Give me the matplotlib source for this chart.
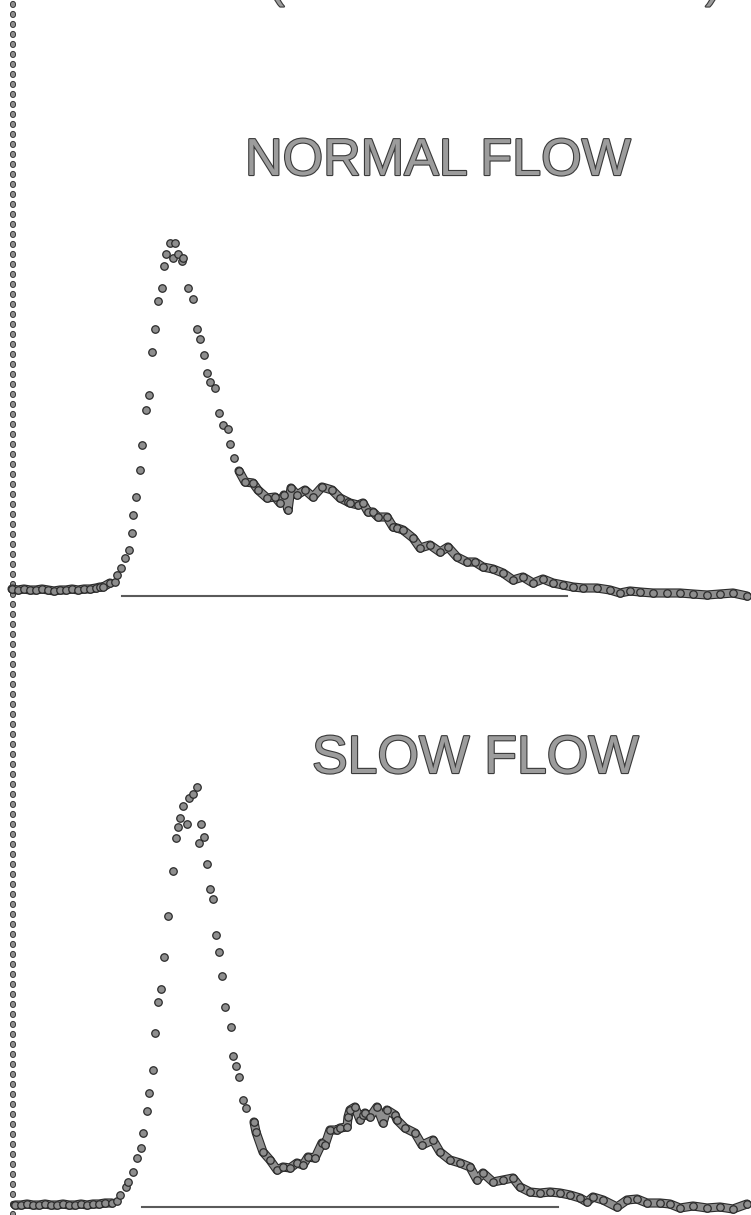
"""
Dilution curves, normal vs slow flow (scanned-figure look).
Output: out.png
"""

import matplotlib
matplotlib.use("Agg")
import matplotlib.pyplot as plt
import matplotlib.patheffects as pe
import numpy as np

W, H = 751, 1215
DOT_FACE = "#8e8e8e"
DOT_EDGE = "#2b2b2b"
TEXT_FACE = "#9c9c9c"
FONT = ["Liberation Sans", "DejaVu Sans"]

# normal flow: sample position vs counts above baseline
NORMAL_X = [12, 18, 24, 30, 36, 42, 48, 54, 60, 66, 72, 78, 84, 90, 96, 100,
            103, 110, 115, 117, 121, 125, 129, 132, 133, 136, 140, 142, 146, 149,
            152, 155, 158, 162, 164, 166, 170, 173, 175, 178, 182, 183, 188, 193,
            197, 200, 204, 207, 210, 215, 219, 223, 228, 230, 234, 239, 245, 253,
            258, 267, 275, 280, 284, 288, 291, 297, 305, 313, 322, 332, 340, 348,
            350, 358, 363, 368, 373, 378, 387, 393, 397, 403, 413, 420, 430, 440,
            448, 457, 467, 475, 483, 493, 503, 513, 523, 533, 543, 553, 563, 573,
            583, 597, 610, 620, 630, 640, 653, 667, 680, 693, 707, 720, 733, 747]
NORMAL_Y = [1, 0, 1, 0, 0, 1, 0, -1, 0, 0, 1, 0, 1, 1, 2, 3,
            3, 7, 8, 15, 22, 32, 40, 57, 75, 93, 120, 145, 180, 195,
            238, 261, 289, 302, 324, 336, 347, 332, 347, 336, 329, 332, 302, 291,
            261, 251, 235, 217, 208, 202, 177, 165, 161, 146, 132, 119, 108, 107,
            100, 92, 93, 87, 95, 80, 102, 95, 100, 93, 103, 100, 92, 88,
            87, 85, 87, 78, 78, 73, 73, 63, 62, 60, 52, 42, 45, 38,
            43, 33, 28, 28, 23, 21, 17, 10, 13, 7, 11, 7, 5, 3,
            2, 2, 0, -3, -1, -2, -3, -3, -3, -4, -5, -4, -3, -6]

# slow flow
SLOW_X = [15, 21, 27, 33, 39, 45, 51, 57, 63, 69, 75, 81, 87, 93, 99, 105,
          112, 117, 120, 126, 128, 133, 137, 141, 143, 147, 149, 153, 155, 158,
          161, 164, 168, 173, 176, 178, 180, 183, 187, 189, 193, 197, 199, 201,
          204, 207, 210, 213, 216, 219, 222, 225, 231, 233, 236, 239, 243, 246,
          254, 256, 263, 270, 277, 283, 290, 297, 303, 308, 315, 322, 325, 330,
          337, 340, 347, 348, 350, 355, 360, 363, 365, 370, 377, 383, 387, 395,
          397, 405, 415, 422, 433, 440, 450, 460, 470, 477, 483, 493, 503, 513,
          520, 530, 540, 550, 560, 570, 580, 587, 593, 603, 617, 627, 637, 647,
          660, 670, 680, 693, 707, 720, 733, 747]
SLOW_Y = [0, 0, 1, 0, 0, 1, 0, 0, 1, 0, 0, 1, 0, 1, 1, 2,
          2, 4, 10, 18, 23, 33, 47, 57, 72, 94, 112, 135, 172, 203,
          216, 248, 289, 334, 367, 378, 387, 399, 381, 407, 411, 418, 362, 381,
          368, 341, 316, 306, 270, 253, 229, 198, 178, 149, 139, 128, 105, 97,
          83, 73, 53, 45, 35, 38, 37, 42, 40, 48, 47, 62, 60, 75,
          75, 77, 78, 88, 95, 98, 85, 90, 92, 88, 98, 82, 95, 90,
          85, 77, 72, 60, 65, 53, 45, 42, 38, 25, 32, 23, 25, 27,
          18, 13, 12, 13, 12, 10, 7, 3, 8, 5, -2, 5, 6, 2,
          2, 1, -3, -1, -3, -2, -4, 1]

# horizontal reference bars under each curve (start, end, level)
NORMAL_BAR = (122, 567, -6)
SLOW_BAR = (142, 558, -2)

TOP_LABEL = "(10 SEC INTERVALS)"
NORMAL_LABEL = "NORMAL FLOW"
SLOW_LABEL = "SLOW FLOW"


def curve(ax, xs, ys, dense_from, dense_to):
    xs = np.asarray(xs, float)
    ys = np.asarray(ys, float)
    outline = [pe.Stroke(linewidth=6.6, foreground=DOT_EDGE), pe.Normal()]
    # where the samples crowd together they merge into a fuzzy band
    for mask in (xs <= dense_to, xs >= dense_from):
        ax.plot(xs[mask], ys[mask], color=DOT_FACE, lw=5.0,
                solid_capstyle="round", solid_joinstyle="round",
                path_effects=outline, zorder=2)
    ax.plot(xs, ys, "o", ms=5.4, mfc=DOT_FACE, mec=DOT_EDGE, mew=0.9, zorder=3)


def bar(ax, spec):
    x0, x1, y = spec
    ax.plot([x0, x1], [y, y], color="#5a5a5a", lw=1.5, zorder=1)


def panel(fig, top_px, bottom_px, base_px):
    ax = fig.add_axes([0, 1 - bottom_px / H, 1, (bottom_px - top_px) / H])
    ax.set_xlim(0, W)
    ax.set_ylim(base_px - bottom_px, base_px - top_px)
    ax.axis("off")
    ax.patch.set_alpha(0)
    return ax


def main():
    # dash lengths below are in points, not multiples of the line width
    plt.rcParams["lines.scale_dashes"] = False
    fig = plt.figure(figsize=(W / 100, H / 100), dpi=100, facecolor="white")

    bg = fig.add_axes([0, 0, 1, 1])
    bg.set_xlim(0, W)
    bg.set_ylim(H, 0)
    bg.axis("off")
    # dotted left axis: ~6 px dots, ~10 px (7.2 pt) apart
    bg.axvline(13, color=DOT_FACE, lw=3.0, linestyle=(0, (0.8, 6.4)),
               dash_capstyle="round",
               path_effects=[pe.Stroke(linewidth=4.3, foreground=DOT_EDGE), pe.Normal()])

    ax1 = panel(fig, 200, 620, 590)
    bar(ax1, NORMAL_BAR)
    curve(ax1, NORMAL_X, NORMAL_Y, dense_from=239, dense_to=112)

    ax2 = panel(fig, 770, H, 1205)
    bar(ax2, SLOW_BAR)
    curve(ax2, SLOW_X, SLOW_Y, dense_from=254, dense_to=112)

    label_fx = [pe.withStroke(linewidth=1.6, foreground="#3a3a3a")]
    fig.text(245 / W, 1 - 175 / H, NORMAL_LABEL, ha="left", va="baseline",
             fontsize=37.5, color=TEXT_FACE, family=FONT, path_effects=label_fx)
    fig.text(312 / W, 1 - 773 / H, SLOW_LABEL, ha="left", va="baseline",
             fontsize=38.5, color=TEXT_FACE, family=FONT, path_effects=label_fx)
    # title line is cut off by the top edge of the scan
    fig.text(495 / W, 1 + 3 / H, TOP_LABEL, ha="center", va="baseline",
             fontsize=33, color=TEXT_FACE, family=FONT, path_effects=label_fx)

    fig.savefig("out.png", dpi=100, facecolor="white")
    plt.close(fig)


if __name__ == "__main__":
    main()
